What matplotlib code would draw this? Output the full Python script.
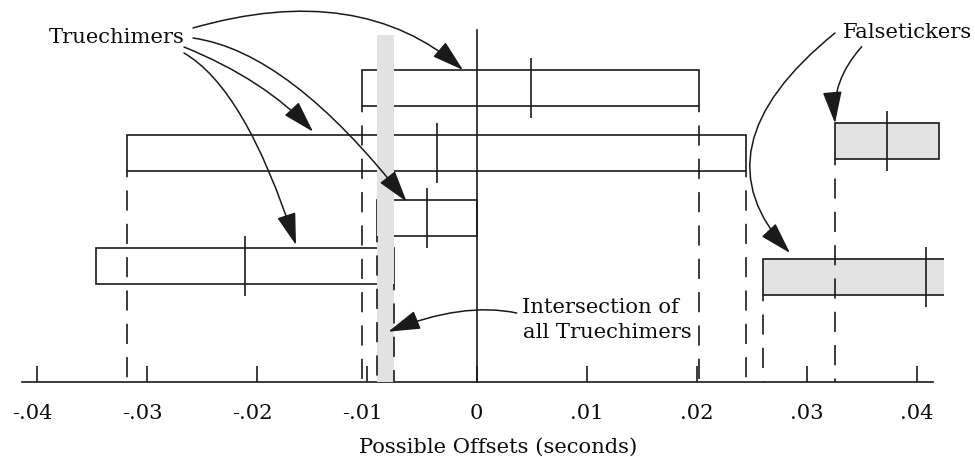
import matplotlib
matplotlib.use("Agg")
import matplotlib.pyplot as plt
from matplotlib.transforms import Affine2D, ScaledTranslation

# ---------------- data ----------------
interval_names = ["A", "B", "C", "D", "E", "F"]
interval_kind = ["true", "true", "true", "true", "false", "false"]
lower_bounds = [-0.0104, -0.0318, -0.0091, -0.0346, 0.0326, 0.0260]
upper_bounds = [0.0202, 0.0245, 0.0000, -0.0075, 0.0420, 0.0557]
dash_at_lower = [True, True, True, False, True, True]
dash_at_upper = [True, True, False, True, False, False]
tick_values = [-0.04, -0.03, -0.02, -0.01, 0.0, 0.01, 0.02, 0.03, 0.04]
tick_labels = ["-.04", "-.03", "-.02", "-.01", "0", ".01", ".02", ".03", ".04"]
x_label = "Possible Offsets (seconds)"
label_true = "Truechimers"
label_false = "Falsetickers"
label_inter_1 = "Intersection of"
label_inter_2 = "all Truechimers"

# ---------------- layout / style ----------------
plt.rcParams["font.family"] = ["DejaVu Serif"]
plt.rcParams["lines.scale_dashes"] = False
W, H = 975, 457
LC = "#1a1a1a"
LW = 1.2
FILL = "#e3e3e3"
BAND = "#e2e2e2"
FS = 15.2
TC = "#0d0d0d"

fig = plt.figure(figsize=(W / 100, H / 100), dpi=100)
PX_ZERO = 476.7      # pixel column of offset 0
PX_PER = 11000.0     # pixels per second
AX_RIGHT = 944
ax = fig.add_axes([0, 0, AX_RIGHT / W, 1])
ax.set_xlim(-PX_ZERO / PX_PER, (AX_RIGHT - PX_ZERO) / PX_PER)
ax.set_ylim(H, 0)
ax.patch.set_visible(False)

pix = Affine2D().scale(1 / W, -1 / H).translate(0, 1) + fig.transFigure

row_y = [88, 153, 218, 266, 141, 277]
box_h = 36
tick_half = 30
axis_y = 382

# boxes
for i in range(len(interval_names)):
    lo, hi = lower_bounds[i], upper_bounds[i]
    fc = "none" if interval_kind[i] == "true" else FILL
    ax.barh(row_y[i], hi - lo, left=lo, height=box_h, facecolor=fc,
            edgecolor=LC, linewidth=LW, zorder=2)
    mid = (lo + hi) / 2
    ax.plot([mid, mid], [row_y[i] - tick_half, row_y[i] + tick_half],
            color=LC, lw=LW, zorder=3, solid_capstyle="butt")

# intersection of truechimers
true_idx = [i for i, k in enumerate(interval_kind) if k == "true"]
band_lo = max(lower_bounds[i] for i in true_idx)
band_hi = min(upper_bounds[i] for i in true_idx)
ax.fill_betweenx([34.7, axis_y], band_lo, band_hi, color=BAND, lw=0, zorder=4)

# dashed drop lines
for i in range(len(interval_names)):
    y0 = row_y[i] + box_h / 2
    for flag, xv in ((dash_at_lower[i], lower_bounds[i]), (dash_at_upper[i], upper_bounds[i])):
        if flag:
            ax.plot([xv, xv], [y0, axis_y], color=LC, lw=LW,
                    ls=(10, (14.5, 9.5)), zorder=5, dash_capstyle="butt")

# zero line
ax.plot([0, 0], [30, axis_y], color=LC, lw=LW, zorder=5)

# axis
for s in ("top", "left", "right"):
    ax.spines[s].set_visible(False)
ax.spines["bottom"].set_position(("data", axis_y))
ax.spines["bottom"].set_bounds((22 - PX_ZERO) / PX_PER, (933 - PX_ZERO) / PX_PER)
ax.spines["bottom"].set_color(LC)
ax.spines["bottom"].set_linewidth(LW)
ax.set_yticks([])
ax.set_xticks(tick_values, tick_labels)
ax.tick_params(axis="x", direction="in", length=11.5, width=LW, color=LC,
               pad=15.5, labelsize=FS, labelcolor=TC)
for lbl in ax.get_xticklabels():
    if lbl.get_text().startswith("-"):
        lbl.set_transform(lbl.get_transform() + ScaledTranslation(-4 / 100, 0, fig.dpi_scale_trans))

# texts
ax.text(498.3, 452.7, x_label, transform=pix, ha="center", va="baseline", fontsize=FS, color=TC)
ax.text(48.3, 42.7, label_true, transform=pix, ha="left", va="baseline", fontsize=FS, color=TC)
ax.text(843.3, 38, label_false, transform=pix, ha="left", va="baseline", fontsize=FS, color=TC)
ax.text(521.7, 313.3, label_inter_1, transform=pix, ha="left", va="baseline", fontsize=FS, color=TC)
ax.text(522.7, 338.3, label_inter_2, transform=pix, ha="left", va="baseline", fontsize=FS, color=TC)

# arrows (start px, tip px, angleA, angleB)
arrows = [
    ((193, 28), (463, 70), 16, -41),
    ((193, 38), (406.7, 201.7), -8, -52),
    ((184, 47), (313, 131.7), -22, -47),
    ((184, 53), (296, 245), -30, -72),
    ((835, 33), (790, 253), 39, -47),
    ((861.7, 46.7), (835, 123.3), 48, -85),
    ((516.7, 313), (388.3, 331.7), -12, 22),
]
for start, tip, aA, aB in arrows:
    ax.annotate("", xy=tip, xycoords=pix, xytext=start, textcoords=pix,
                annotation_clip=False,
                arrowprops=dict(arrowstyle="-|>,head_length=1.0,head_width=0.3",
                                connectionstyle=f"angle3,angleA={aA},angleB={aB}",
                                color=LC, lw=1.1, shrinkA=0, shrinkB=0,
                                mutation_scale=20),
                zorder=6)

fig.savefig("out.png", dpi=100)
